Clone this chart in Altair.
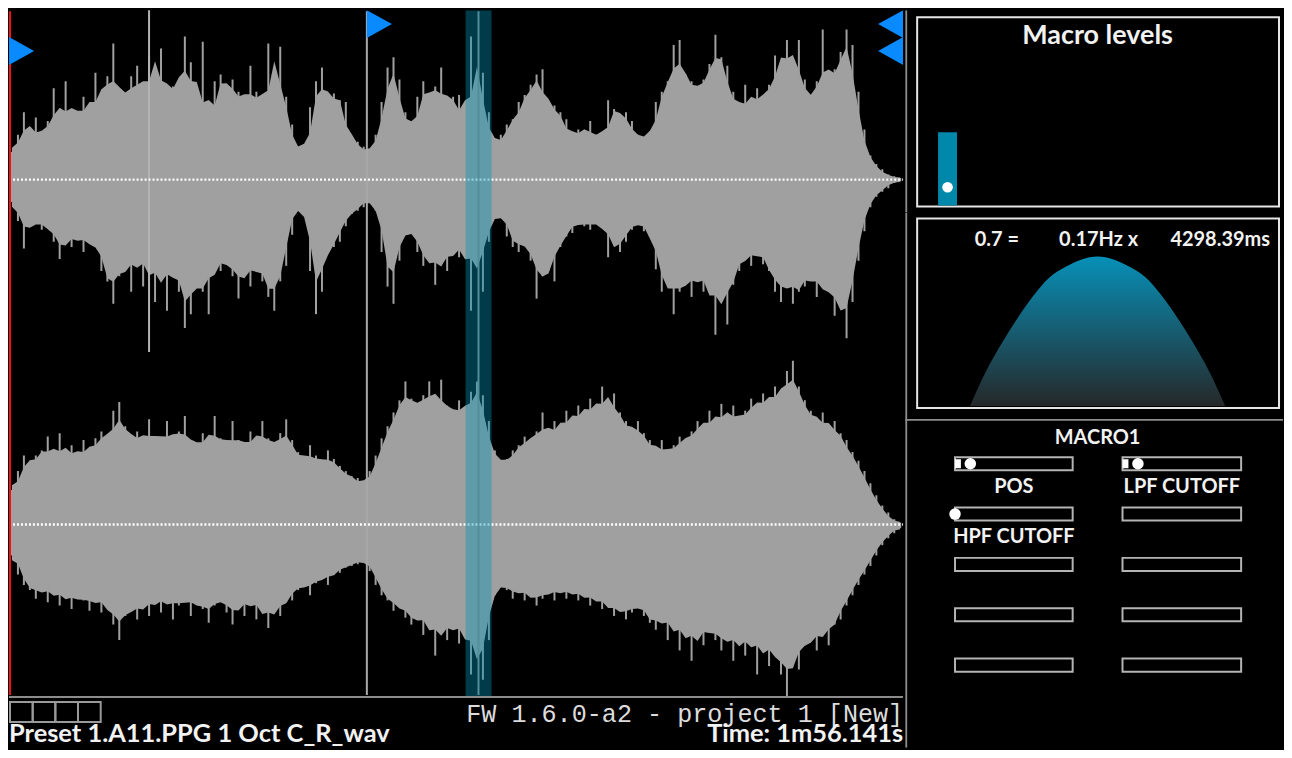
import altair as alt
import numpy as np
import pandas as pd

# ---------------- data ----------------
DURATION_S = 116.141

# peak levels per column, percent of full scale (upper / lower half of each channel)
TOP_UP = [16,26,39,28,36,25,34,53,35,57,
          40,38,48,40,62,48,60,79,51,48,
          60,66,51,72,66,76,51,54,57,83,
          68,48,80,35,57,61,54,58,51,45,
          66,51,42,79,64,77,48,32,19,16,
          42,57,65,48,50,46,45,25,22,19,
          16,26,45,65,71,58,39,29,48,57,
          48,54,65,45,48,49,36,83,62,62,
          39,20,26,32,35,45,49,55,61,64,
          45,43,39,35,26,29,28,34,26,24,
          46,41,38,39,34,26,24,28,45,51,
          57,78,81,61,57,53,58,67,84,71,
          66,51,41,55,45,53,47,55,72,68,
          81,68,81,58,45,57,87,58,64,74,
          87,78,51,29,14,9,6,3,2,1]
TOP_DN = [13,24,40,27,25,29,27,36,46,36,
          39,33,42,36,39,53,59,72,56,50,
          65,45,62,50,71,53,76,50,65,86,
          78,59,65,78,50,53,47,56,69,53,
          62,50,59,68,76,59,50,32,14,21,
          53,78,65,42,39,36,27,20,18,16,
          12,18,42,62,72,47,29,31,42,50,
          45,61,47,53,42,45,39,76,42,65,
          36,20,21,33,39,42,36,47,69,56,
          53,59,39,33,31,25,27,29,25,27,
          45,37,42,36,29,25,30,33,52,65,
          59,78,65,59,68,56,65,62,90,65,
          84,61,53,45,50,42,49,53,65,71,
          59,72,65,62,56,68,62,65,79,71,
          92,71,47,30,16,10,7,5,2,1]
BOT_UP = [20,31,40,36,40,43,51,40,53,42,
          46,40,49,43,50,54,49,66,71,57,
          51,54,49,61,51,49,60,50,54,63,
          49,46,53,49,63,50,46,60,49,46,
          54,49,60,50,46,53,61,49,42,38,
          46,40,36,43,38,34,31,28,27,24,
          31,40,50,57,65,72,83,73,69,75,
          83,72,84,69,65,72,66,77,83,75,
          60,43,36,38,43,46,51,49,54,65,
          53,60,57,66,61,69,65,73,67,80,
          72,76,65,60,55,60,53,49,44,49,
          42,46,51,49,54,60,57,66,60,70,
          63,69,61,66,73,69,76,72,80,76,
          89,95,80,72,66,61,65,57,60,53,
          49,42,37,31,24,17,11,7,3,1]
BOT_DN = [18,29,35,38,43,37,45,39,47,41,
          49,42,44,50,43,51,47,58,67,53,
          49,55,47,53,44,51,43,55,47,43,
          53,45,49,57,47,43,51,58,47,53,
          44,55,49,60,50,53,45,44,38,35,
          41,34,31,35,29,28,25,24,23,21,
          27,35,41,44,50,47,54,58,53,64,
          57,76,61,67,58,69,61,87,73,90,
          67,41,35,38,43,38,44,41,47,43,
          39,44,38,43,39,44,41,47,43,49,
          47,53,49,55,51,47,53,57,61,54,
          67,58,73,61,79,64,70,60,67,73,
          64,79,67,76,66,87,70,82,73,87,
          100,79,84,70,67,73,62,70,58,55,
          47,41,35,29,24,18,12,8,5,2]
CLIP_T = [18.19]            # clipped transient in the top channel
CLIP_LEVEL = [100]

MARKER_T = [0.0, 46.48, DURATION_S, DURATION_S]
MARKER_ROW = [2, 1, 1, 2]
MARKER_KIND = ["start", "start", "end", "end"]
LOOP_LINE_T = [46.48]
PLAYHEAD_T = [60.98]
SEL_START = [59.30]
SEL_END = [62.67]

MACRO_LEVEL = [0.40]
MACRO_POS = [0.10]
LFO_TEXT = ["0.7 =", "0.17Hz x", "4298.39ms"]
LFO_SHAPE = [0, 0.23, 0.42, 0.59, 0.74, 0.86, 0.93, 0.98, 1.0,
             0.98, 0.93, 0.86, 0.74, 0.59, 0.42, 0.23, 0]

MACRO_NAME = "MACRO1"
SLIDER_LABELS = ["POS", "LPF CUTOFF", "HPF CUTOFF", "", "", "", "", "", "", ""]
SLIDER_VALUES = [0.13, 0.13, 0.0, None, None, None, None, None, None, None]
SLIDER_FILL = [0.05, 0.05, 0, 0, 0, 0, 0, 0, 0, 0]

STATUS_FW = "FW 1.6.0-a2 - project 1 [New]"
STATUS_PRESET = "Preset 1.A11.PPG 1 Oct C_R_wav"
STATUS_TIME = "Time: 1m56.141s"
TRACK_SLOTS = [1, 2, 3, 4]

# ---------------- layout / style ----------------
W_L, H_WAVE, H_STATUS = 897, 688, 52
W_R, H_MACRO, H_LFO = 379, 203, 207
H_SL = H_WAVE + H_STATUS - H_MACRO - H_LFO
FONT = "Lato"
TXT = "#f2f2f2"
SEP = "#8c8c8c"
WAVE_GRAY = "#a0a0a0"
BLUE = "#0a8aff"
CH_TOP_PX = 170      # channel centre lines within the waveform view
CH_BOT_PX = 516
FULL_PX = 173        # pixels for a full-scale peak

# ---------------- waveform panel ----------------
n = len(TOP_UP)
dt = DURATION_S / n
frames = []
for ch, center, up, dn in [("L", 1, TOP_UP, TOP_DN), ("R", -1, BOT_UP, BOT_DN)]:
    f = pd.DataFrame({"t": (np.arange(n) + 0.5) * dt, "up": up, "dn": dn})
    f["ch"] = ch
    f["hi"] = center + f["up"] / 100.0
    f["lo"] = center - f["dn"] / 100.0
    # dense body of the waveform, from the neighbouring peaks (between local min and local mean)
    r_up = f["up"].rolling(3, center=True, min_periods=1)
    r_dn = f["dn"].rolling(3, center=True, min_periods=1)
    f["bhi"] = center + (r_up.min() + r_up.mean()) / 200.0
    f["blo"] = center - (r_dn.min() + r_dn.mean()) / 200.0
    frames.append(f)
wdf = pd.concat(frames, ignore_index=True)

XS = alt.Scale(domain=[0, DURATION_S], nice=False, zero=False)
YS = alt.Scale(domain=[-1 - (H_WAVE - CH_BOT_PX) / FULL_PX, 1 + CH_TOP_PX / FULL_PX], nice=False, zero=False)

body = alt.Chart(wdf).mark_area(color=WAVE_GRAY, opacity=1, interpolate="linear", clip=True).encode(
    x=alt.X("t:Q", scale=XS, axis=None),
    y=alt.Y("bhi:Q", scale=YS, axis=None), y2="blo:Q",
    detail="ch:N")
spikes = alt.Chart(wdf).mark_rule(color=WAVE_GRAY, strokeWidth=2, clip=True).encode(
    x=alt.X("t:Q", scale=XS, axis=None),
    y=alt.Y("hi:Q", scale=YS, axis=None), y2="lo:Q")

cdf = pd.DataFrame({"t": CLIP_T, "lvl": CLIP_LEVEL})
cdf["hi"] = 1 + cdf["lvl"] / 100.0
cdf["lo"] = 1 - cdf["lvl"] / 100.0
clip_spike = alt.Chart(cdf).mark_rule(color="#b4b4b4", strokeWidth=2, clip=True).encode(
    x=alt.X("t:Q", scale=XS, axis=None),
    y=alt.Y("hi:Q", scale=YS, axis=None), y2="lo:Q")

loop_line = alt.Chart(pd.DataFrame({"t": LOOP_LINE_T})).mark_rule(
    color="#a8a8a8", strokeWidth=2, clip=True).encode(
    x=alt.X("t:Q", scale=XS, axis=None), y=alt.value(1), y2=alt.value(H_WAVE - 1))
playhead = alt.Chart(pd.DataFrame({"t": PLAYHEAD_T})).mark_rule(
    color="#8a8a8a", strokeWidth=2, clip=True).encode(
    x=alt.X("t:Q", scale=XS, axis=None), y=alt.value(1), y2=alt.value(H_WAVE - 1))

centers = alt.Chart(pd.DataFrame({"c": [1, -1], "a": [0.0, 0.0], "b": [DURATION_S, DURATION_S]})).mark_rule(
    color="white", strokeWidth=2.5, strokeDash=[2, 2], clip=True).encode(
    x=alt.X("a:Q", scale=XS, axis=None), x2="b:Q",
    y=alt.Y("c:Q", scale=YS, axis=None))

sel = alt.Chart(pd.DataFrame({"s": SEL_START, "e": SEL_END})).mark_rect(
    color="#0094b9", opacity=0.4, clip=True).encode(
    x=alt.X("s:Q", scale=XS, axis=None), x2="e:Q", y=alt.value(0), y2=alt.value(H_WAVE))

start_line = alt.Chart(pd.DataFrame({"t": [MARKER_T[0]]})).mark_rule(
    color="#ff1010", strokeWidth=2, xOffset=1, clip=True).encode(
    x=alt.X("t:Q", scale=XS, axis=None), y=alt.value(1), y2=alt.value(H_WAVE - 1))

PATH_R = "M0,-1L1.8,0L0,1Z"
PATH_L = "M0,-1L-1.8,0L0,1Z"
mdf = pd.DataFrame({"t": MARKER_T, "row": MARKER_ROW, "kind": MARKER_KIND})
tris = alt.Chart(mdf).mark_point(filled=True, opacity=1, size=784, strokeWidth=0, clip=True).encode(
    x=alt.X("t:Q", scale=XS, axis=None),
    y=alt.Y("row:Q", scale=alt.Scale(domain=[1, 2], range=[14, 41]), axis=None),
    shape=alt.Shape("kind:N", scale=alt.Scale(domain=["start", "end"], range=[PATH_R, PATH_L]), legend=None),
    color=alt.value(BLUE))

wave_panel = alt.layer(body, spikes, clip_spike, loop_line, playhead, centers, sel, start_line, tris).resolve_scale(
    y="independent").properties(width=W_L, height=H_WAVE)


def label(text, x, y, size, align="center", font=FONT, weight="bold", color=TXT, baseline="middle"):
    return alt.Chart(pd.DataFrame({"txt": [text]})).mark_text(
        align=align, baseline=baseline, font=font, fontSize=size, fontWeight=weight, color=color,
        clip=True).encode(x=alt.value(x), y=alt.value(y), text="txt:N")


one = pd.DataFrame({"a": [0]})

# ---------------- status panel ----------------
status_border = alt.Chart(one).mark_rule(color=SEP, strokeWidth=2, clip=True).encode(
    x=alt.value(0), x2=alt.value(W_L), y=alt.value(1))
sq = pd.DataFrame({"s": TRACK_SLOTS})
sq["s0"] = sq["s"] - 1
squares = alt.Chart(sq).mark_rect(fillOpacity=0, stroke="#9a9a9a", strokeWidth=2, clip=True).encode(
    x=alt.X("s0:Q", scale=alt.Scale(domain=[0, 4], range=[1, 92], nice=False, zero=False), axis=None),
    x2="s:Q", y=alt.value(6), y2=alt.value(26))
status_panel = alt.layer(
    status_border, squares,
    label(STATUS_FW, W_L, 18, 25.2, align="right", font="Liberation Mono", weight="normal", color="#dcdcdc"),
    label(STATUS_PRESET, 0, 46, 25.5, align="left", baseline="alphabetic"),
    label(STATUS_TIME, W_L, 46, 25.5, align="right", baseline="alphabetic"),
).properties(width=W_L, height=H_STATUS)


def sep_rule(h):
    return alt.Chart(one).mark_rule(color=SEP, strokeWidth=2, clip=True).encode(
        x=alt.value(1), y=alt.value(0), y2=alt.value(h))


def box(x0, x1, y0, y1):
    return alt.Chart(one).mark_rect(fillOpacity=0, stroke="#e6e6e6", strokeWidth=2, clip=True).encode(
        x=alt.value(x0), x2=alt.value(x1), y=alt.value(y0), y2=alt.value(y1))


# ---------------- macro levels panel ----------------
LV = alt.Scale(domain=[0, 1], range=[196, 12], nice=False, zero=False)
lvl = alt.Chart(pd.DataFrame({"level": MACRO_LEVEL})).mark_rect(color="#0088ab", clip=True).encode(
    x=alt.value(33), x2=alt.value(52),
    y=alt.Y("level:Q", scale=LV, axis=None), y2=alt.datum(0))
dot = alt.Chart(pd.DataFrame({"pos": MACRO_POS})).mark_circle(
    size=113, color="white", opacity=1, clip=True).encode(
    x=alt.value(42.5), y=alt.Y("pos:Q", scale=LV, axis=None))
macro_panel = alt.layer(
    sep_rule(H_MACRO), box(12, 375, 7, 197), label("Macro levels", 193, 26, 27), lvl, dot
).properties(width=W_R, height=H_MACRO)

# ---------------- LFO panel ----------------
lfo_df = pd.DataFrame({"phase": np.linspace(0, 1, len(LFO_SHAPE)), "v": LFO_SHAPE})
grad = alt.Gradient(gradient="linear",
                    stops=[alt.GradientStop(color="#262829", offset=0),
                           alt.GradientStop(color="#0790b8", offset=1)],
                    x1=1, x2=1, y1=1, y2=0)
lfo_area = alt.Chart(lfo_df).mark_area(color=grad, interpolate="monotone", clip=True).encode(
    x=alt.X("phase:Q", scale=alt.Scale(domain=[0, 1], range=[65, 321], nice=False, zero=False), axis=None),
    y=alt.Y("v:Q", scale=alt.Scale(domain=[0, 1], range=[194, 44], nice=False, zero=False), axis=None),
    y2=alt.datum(0))
lfo_panel = alt.layer(
    sep_rule(H_LFO), box(12, 375, 6, 196), lfo_area,
    label(LFO_TEXT[0], 92, 28, 20), label(LFO_TEXT[1], 194, 28, 20), label(LFO_TEXT[2], 316, 28, 20),
).properties(width=W_R, height=H_LFO)

# ---------------- macro sliders panel ----------------
sl = pd.DataFrame({"label": SLIDER_LABELS,
                   "value": pd.to_numeric(pd.Series(SLIDER_VALUES, dtype="float")),
                   "fill": SLIDER_FILL})
k = np.arange(len(sl))
sl["col"] = k % 2
sl["row"] = k // 2
sl["top"] = sl["row"] - 0.13
sl["bot"] = sl["row"] + 0.13
sl["ftop"] = sl["row"] - 0.09
sl["fbot"] = sl["row"] + 0.09
sl["zero"] = 0.0
sl["one"] = 1.0
sl["mid"] = 0.5
ROWY = alt.Scale(domain=[0, 4], range=[45, 247], nice=False, zero=False)


def slider_col(c, rng):
    d = sl[sl["col"] == c]
    sx = alt.Scale(domain=[0, 1], range=rng, nice=False, zero=False)
    boxes = alt.Chart(d).mark_rect(fillOpacity=0, stroke="#b4b4b4", strokeWidth=2, clip=True).encode(
        x=alt.X("zero:Q", scale=sx, axis=None), x2="one:Q",
        y=alt.Y("top:Q", scale=ROWY, axis=None), y2="bot:Q")
    fills = alt.Chart(d[d["fill"] > 0]).mark_rect(color="white", clip=True).encode(
        x=alt.X("zero:Q", scale=sx, axis=None), x2="fill:Q",
        y=alt.Y("ftop:Q", scale=ROWY, axis=None), y2="fbot:Q")
    knobs = alt.Chart(d[d["value"].notna()]).mark_circle(size=133, color="white", opacity=1, clip=True).encode(
        x=alt.X("value:Q", scale=sx, axis=None), y=alt.Y("row:Q", scale=ROWY, axis=None))
    labels = alt.Chart(d[d["label"] != ""]).mark_text(
        dy=23, font=FONT, fontSize=20, fontWeight="bold", color=TXT, baseline="middle", clip=True).encode(
        x=alt.X("mid:Q", scale=sx, axis=None), y=alt.Y("row:Q", scale=ROWY, axis=None), text="label:N")
    return alt.layer(boxes, fills, knobs, labels)


top_rule = alt.Chart(one).mark_rule(color=SEP, strokeWidth=2, clip=True).encode(
    x=alt.value(0), x2=alt.value(W_R), y=alt.value(1))
slider_panel = alt.layer(
    sep_rule(H_SL), top_rule, label(MACRO_NAME, 193, 19, 20),
    slider_col(0, [50, 168]), slider_col(1, [218, 337])
).resolve_scale(x="independent").properties(width=W_R, height=H_SL)

left = alt.vconcat(wave_panel, status_panel, spacing=0, bounds="flush")
right = alt.vconcat(macro_panel, lfo_panel, slider_panel, spacing=0, bounds="flush")
chart = alt.hconcat(left, right, spacing=0).properties(
    padding=0, background="#000000").configure_view(stroke="transparent")

chart.save("out.html", embed_options={"renderer": "svg", "actions": False})
